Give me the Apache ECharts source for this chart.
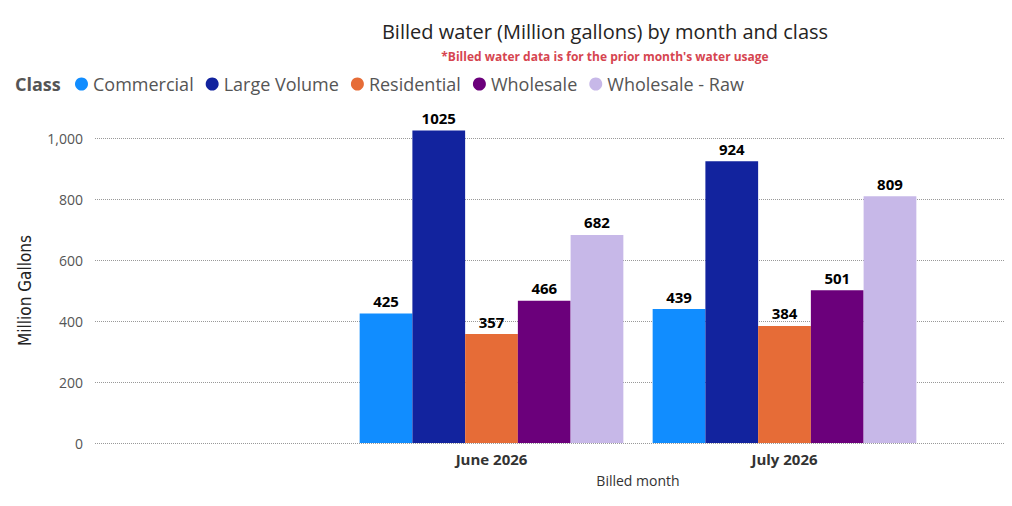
<!DOCTYPE html>
<html><head><meta charset="utf-8">
<script src="https://cdn.jsdelivr.net/npm/echarts@6/dist/echarts.min.js"></script>
<style>html,body{margin:0;padding:0;background:#fff}#main{width:1012px;height:506px}</style>
</head><body><div id="main"></div>
<script>
var months = ['June 2026', 'July 2026'];
var classes = ['Commercial', 'Large Volume', 'Residential', 'Wholesale', 'Wholesale - Raw'];
var commercial = [425, 439];
var largeVolume = [1025, 924];
var residential = [357, 384];
var wholesale = [466, 501];
var wholesaleRaw = [682, 809];
var colors = ['#118DFF', '#12239E', '#E66C37', '#6B007B', '#C7B8E8'];
var yTicks = [0, 200, 400, 600, 800, 1000];

var myChart = echarts.init(document.getElementById('main'), null, { renderer: 'svg' });
var font = 'Open Sans';
var values = [commercial, largeVolume, residential, wholesale, wholesaleRaw];
var series = classes.map(function (c, i) {
    return {
        name: c, type: 'bar', xAxisIndex: 0, yAxisIndex: 0,
        data: values[i], barGap: 0, barCategoryGap: '10%', clip: false,
        itemStyle: { color: colors[i] },
        label: { show: true, position: 'top', color: '#000', fontWeight: 'bold', fontSize: 15, fontFamily: font }
    };
});
var option = {
    color: colors,
    textStyle: { fontFamily: font },
    title: [
        { text: 'Billed water (Million gallons) by month and class', left: 600, top: 16, textAlign: 'center',
          textStyle: { fontSize: 20, fontWeight: 'normal', color: '#252423', fontFamily: font } },
        { text: "*Billed water data is for the prior month's water usage", left: 600, top: 45, textAlign: 'center',
          textStyle: { fontSize: 12, fontWeight: 'bold', color: '#D64550', fontFamily: font } },
        { text: 'Class', left: 10, top: 70, textStyle: { fontSize: 18, fontWeight: 'bold', color: '#555', fontFamily: font } }
    ],
    legend: {
        left: 70, top: 70, icon: 'circle', itemWidth: 13, itemHeight: 13, itemGap: 12,
        textStyle: { fontSize: 18, color: '#555', fontFamily: font }, data: classes
    },
    grid: [
        { left: 345, right: 81, top: 138, bottom: 63 },
        { left: 95, right: 7, top: 138, bottom: 63 }
    ],
    xAxis: [
        { type: 'category', gridIndex: 0, data: months,
          axisLine: { show: false }, axisTick: { show: false },
          axisLabel: { fontSize: 15, fontWeight: 'bold', color: '#333', margin: 8 } },
        { type: 'category', gridIndex: 1, data: [''], show: true,
          name: 'Billed month', nameLocation: 'middle', nameGap: 30,
          nameTextStyle: { fontSize: 14, color: '#333', padding: [0, 0, 0, 176] },
          axisLine: { show: false }, axisTick: { show: false }, axisLabel: { show: false } }
    ],
    yAxis: [
        { type: 'value', gridIndex: 0, min: 0, max: 1000, interval: 200, show: false },
        { type: 'value', gridIndex: 1, min: 0, max: 1000, interval: 200,
          name: 'Million Gallons', nameLocation: 'middle', nameGap: 62,
          nameTextStyle: { fontSize: 17, color: '#222', fontFamily: 'Liberation Sans Narrow, DejaVu Sans Condensed' },
          axisLabel: { fontSize: 14, color: '#555', margin: 12,
            formatter: function (v) { return v.toLocaleString('en-US'); } },
          splitLine: { lineStyle: { type: 'dotted', color: '#999' } } }
    ],
    series: series
};
myChart.setOption(option);
</script></body></html>
